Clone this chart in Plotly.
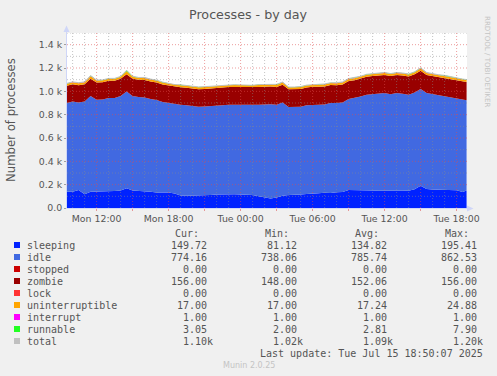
import plotly.graph_objects as go
import pandas as pd

# ---------------- data ----------------
times = list(pd.date_range("2025-07-14 09:30", "2025-07-15 18:30", freq="30min")) + [pd.Timestamp("2025-07-15 18:50")]

sleeping = [140, 140, 155, 118, 140, 140, 145, 145, 145, 150,
            169, 150, 147, 147, 140, 133, 133, 133, 125, 108,
            106, 106, 106, 112, 112, 115, 118, 118, 118, 115,
            115, 112, 100, 88, 82, 90, 105, 112, 112, 115,
            120, 126, 126, 130, 128, 135, 138, 155, 155, 150,
            152, 150, 148, 150, 148, 150, 150, 148, 160, 190,
            162, 158, 155, 155, 155, 152, 138, 149.72]
idle = [759, 773, 750, 795, 820, 788, 785, 797, 797, 810,
        830, 810, 804, 801, 795, 792, 775, 767, 763, 777,
        774, 766, 762, 758, 760, 763, 762, 767, 767, 767,
        765, 768, 785, 800, 808, 795, 800, 753, 753, 753,
        760, 759, 759, 758, 772, 764, 767, 780, 787, 805,
        819, 825, 832, 835, 827, 835, 830, 823, 830, 830,
        823, 817, 810, 805, 795, 783, 790, 774.16]
stopped = [0] * 68
zombie = [148, 148, 148, 148, 148, 148, 148, 148, 148, 148,
          148, 148, 148, 150, 150, 150, 150, 150, 150, 150,
          150, 150, 150, 150, 150, 150, 152, 152, 152, 152,
          152, 152, 152, 152, 152, 152, 152, 152, 152, 152,
          152, 154, 154, 154, 154, 154, 154, 154, 154, 154,
          154, 156, 156, 156, 156, 156, 156, 156, 156, 156,
          156, 156, 156, 156, 156, 156, 156, 156]
lock = [0] * 68
uninterruptible = [17, 17, 17, 17, 22, 17, 17, 17, 17, 17,
                   24.88, 17, 17, 17, 17, 17, 17, 17, 17, 17,
                   17, 17, 17, 17, 17, 17, 17, 17, 17, 17,
                   17, 17, 17, 17, 17, 17, 19, 17, 17, 17,
                   17, 17, 17, 17, 17, 17, 17, 17, 17, 17,
                   17, 17, 17, 17, 17, 17, 17, 17, 17, 20,
                   17, 17, 17, 17, 17, 17, 17, 17]
interrupt = [1] * 68
runnable = [3, 2, 3, 2, 4, 3, 2, 3, 3, 2,
            7.9, 3, 2, 3, 2, 3, 3, 2, 2, 3,
            2, 3, 2, 2, 3, 2, 3, 2, 2, 3,
            3, 2, 3, 2, 3, 5, 3, 2, 2, 3,
            3, 2, 3, 3, 2, 3, 4, 3, 3, 2,
            3, 3, 2, 3, 3, 2, 3, 4, 3, 5,
            3, 2, 3, 3, 2, 3, 3, 3.05]

names = ["sleeping", "idle", "stopped", "zombie", "lock",
         "uninterruptible", "interrupt", "runnable", "total"]
colors = ["#0022ff", "#4169e1", "#cc0000", "#990000", "#ff3333",
          "#ffa500", "#ff00ff", "#22ff22", "#c0c0c0"]
cur_vals = ["149.72", "774.16", "0.00", "156.00", "0.00", "17.00", "1.00", "3.05", "1.10k"]
min_vals = ["81.12", "738.06", "0.00", "148.00", "0.00", "17.00", "1.00", "2.00", "1.02k"]
avg_vals = ["134.82", "785.74", "0.00", "152.06", "0.00", "17.24", "1.00", "2.81", "1.09k"]
max_vals = ["195.41", "862.53", "0.00", "156.00", "0.00", "24.88", "1.00", "7.90", "1.20k"]

y_tickvals = [0, 200, 400, 600, 800, 1000, 1200, 1400]
y_ticktext = ["0.0", "0.2 k", "0.4 k", "0.6 k", "0.8 k", "1.0 k", "1.2 k", "1.4 k"]
x_tickvals = list(pd.date_range("2025-07-14 12:00", "2025-07-15 18:00", freq="3h"))
x_ticktext = ["Mon 12:00", "", "Mon 18:00", "", "Tue 00:00", "", "Tue 06:00", "", "Tue 12:00", "", "Tue 18:00"]
x_hours = list(pd.date_range("2025-07-14 10:00", "2025-07-15 18:00", freq="1h"))
x_range = ["2025-07-14 09:32", "2025-07-15 18:52"]
y_range = [0, 1500]

# ---------------- layout helpers ----------------
W, H = 497, 376
L, T, R, B = 67, 33, 467, 208

def fx(px):
    return (px - L) / (R - L)

def fy(py):
    return (B - py) / (B - T)

TXT = "#555555"
fig = go.Figure()

stack_series = [sleeping, idle, stopped, zombie, lock, uninterruptible, interrupt, runnable]
for name, vals, col in zip(names[:-1], stack_series, colors[:-1]):
    fig.add_trace(go.Scatter(x=times, y=vals, name=name, mode="lines", stackgroup="one",
                             line=dict(width=0, color=col), fillcolor=col,
                             hoverinfo="skip"))
total = [sum(v) for v in zip(*stack_series)]
fig.add_trace(go.Scatter(x=times, y=total, name="total", mode="lines",
                         line=dict(color=colors[-1], width=1), hoverinfo="skip"))

shapes = []
# grid drawn above the data, like rrdtool
MINOR = "rgba(140,140,140,0.5)"
MAJOR = "rgba(222,79,79,0.55)"
DASH = "1px,2px"
major_set = set(x_tickvals)
for t in x_hours:
    if t in major_set:
        continue
    shapes.append(dict(type="line", xref="x", yref="paper", x0=t, x1=t, y0=0, y1=1,
                       line=dict(color=MINOR, width=1, dash=DASH), layer="above"))
for v in range(100, 1600, 200):
    shapes.append(dict(type="line", xref="paper", yref="y", x0=0, x1=1, y0=v, y1=v,
                       line=dict(color=MINOR, width=1, dash=DASH), layer="above"))
for t in x_tickvals:
    shapes.append(dict(type="line", xref="x", yref="paper", x0=t, x1=t, y0=0, y1=1,
                       line=dict(color=MAJOR, width=1, dash=DASH), layer="above"))
for v in y_tickvals[1:]:
    shapes.append(dict(type="line", xref="paper", yref="y", x0=0, x1=1, y0=v, y1=v,
                       line=dict(color=MAJOR, width=1, dash=DASH), layer="above"))

AX = "#cfd6f8"
# axes with arrows
shapes.append(dict(type="line", xref="paper", yref="paper", x0=fx(66.5), x1=fx(66.5), y0=fy(208.5), y1=fy(29),
                   line=dict(color=AX, width=1), layer="above"))
shapes.append(dict(type="line", xref="paper", yref="paper", x0=fx(66.5), x1=fx(469), y0=fy(208.5), y1=fy(208.5),
                   line=dict(color=AX, width=1), layer="above"))
shapes.append(dict(type="path", xref="paper", yref="paper",
                   path=f"M {fx(66.5)} {fy(25.5)} L {fx(63.5)} {fy(32)} L {fx(69.5)} {fy(32)} Z",
                   fillcolor=AX, line=dict(width=0), layer="above"))
shapes.append(dict(type="path", xref="paper", yref="paper",
                   path=f"M {fx(473.5)} {fy(208.5)} L {fx(467)} {fy(205.5)} L {fx(467)} {fy(211.5)} Z",
                   fillcolor=AX, line=dict(width=0), layer="above"))

# legend squares
row0 = 245
for i, col in enumerate(colors):
    cy = row0 + 12 * i
    shapes.append(dict(type="rect", xref="paper", yref="paper",
                       x0=fx(14), x1=fx(20), y0=fy(cy - 3), y1=fy(cy + 3),
                       fillcolor=col, line=dict(width=0)))

annotations = []

def txt(px, py, s, anchor="left", size=10, color=TXT, family="DejaVu Sans Mono", angle=0):
    annotations.append(dict(x=fx(px), y=fy(py), xref="paper", yref="paper", text=s,
                            showarrow=False, xanchor=anchor, yanchor="middle",
                            textangle=angle, borderpad=0, borderwidth=0,
                            font=dict(family=family, size=size, color=color)))

txt(248, 14, "Processes - by day", anchor="center", size=12.7, family="DejaVu Sans")
txt(11, 120, "Number of processes", anchor="center", size=11.7, family="DejaVu Sans", angle=-90)
txt(488, 61, "RRDTOOL / TOBI OETIKER", anchor="center", size=7.1, color="#c4c4c4",
    family="DejaVu Sans", angle=90)

col_right = [207, 297, 387, 477]
headers = ["Cur:", "Min:", "Avg:", "Max:"]
for hx, h in zip(col_right, headers):
    txt(hx - 8, 233, h, anchor="right")
for i, name in enumerate(names):
    cy = row0 + 12 * i
    txt(26.5, cy, name)
    for cx, vals in zip(col_right, [cur_vals, min_vals, avg_vals, max_vals]):
        s = vals[i]
        txt(cx + (6 if s.endswith("k") else 0), cy, s, anchor="right")
txt(483, 353, "Last update: Tue Jul 15 18:50:07 2025", anchor="right")
txt(249, 365, "Munin 2.0.25", anchor="center", size=8, color="#c4c4c4", family="DejaVu Sans")

fig.update_layout(
    width=W, height=H, autosize=False,
    margin=dict(l=L, r=W - R, t=T, b=H - B, pad=0),
    paper_bgcolor="#f0f0f0", plot_bgcolor="#ffffff",
    showlegend=False,
    shapes=shapes, annotations=annotations,
    xaxis=dict(type="date", range=x_range, showgrid=False, zeroline=False, showline=False,
               tickmode="array", tickvals=x_tickvals, ticktext=x_ticktext,
               ticks="outside", ticklen=2, tickcolor=MAJOR,
               tickfont=dict(family="DejaVu Sans", size=9.4, color=TXT),
               fixedrange=True),
    yaxis=dict(range=y_range, showgrid=False, zeroline=False, showline=False,
               tickmode="array", tickvals=y_tickvals, ticktext=y_ticktext,
               ticks="outside", ticklen=2, tickcolor="rgba(140,140,140,0.8)",
               tickfont=dict(family="DejaVu Sans", size=9.4, color=TXT),
               fixedrange=True),
)

fig.write_html("out.html", config={"displayModeBar": False},
               post_script="document.body.style.margin='0';document.body.style.padding='0';")
